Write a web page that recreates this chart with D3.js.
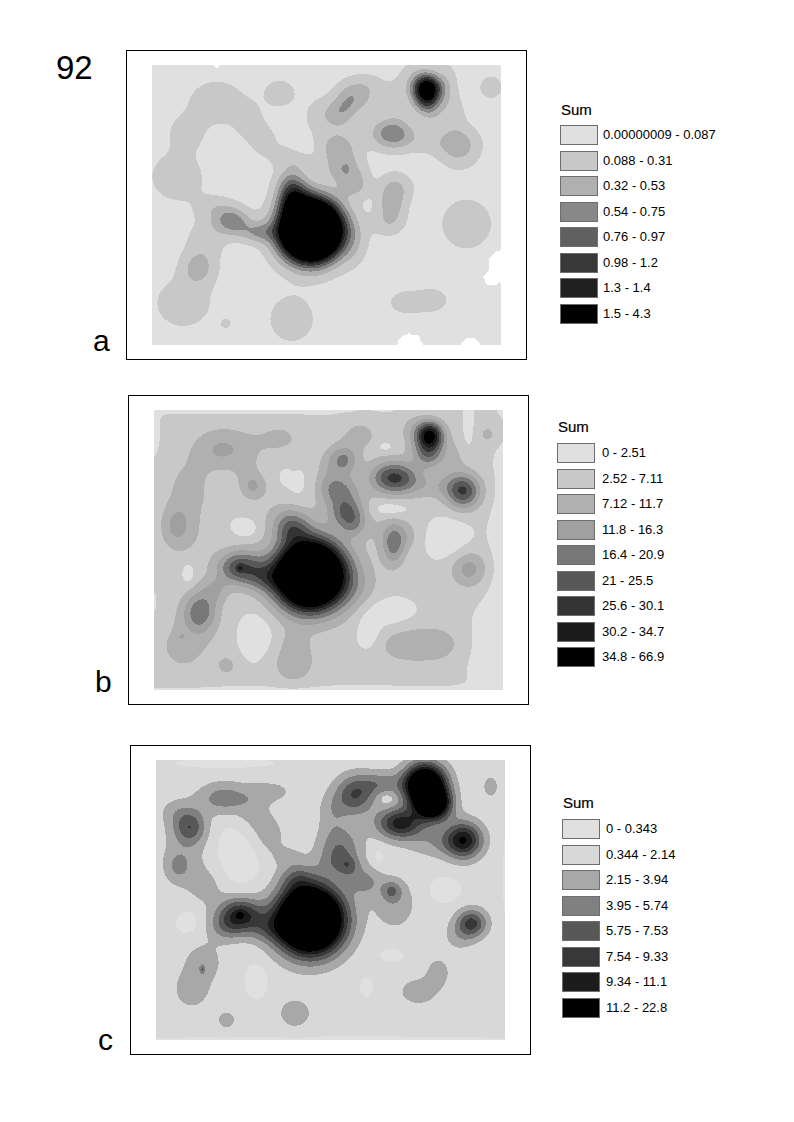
<!DOCTYPE html>
<html><head><meta charset="utf-8">
<script src="https://cdn.jsdelivr.net/npm/d3@7/dist/d3.min.js"></script>
<style>html,body{margin:0;padding:0;background:#fff}svg{display:block}text{font-family:"Liberation Sans",Arial,sans-serif;fill:#000}</style>
</head><body><svg id="c" width="794" height="1122"></svg>
<script>
// Peaks: [east, north, height, spreadE, spreadN]
const peaksA = [
 [572,556,24,58,58],[520,470,3,30,30],[515,420,3,32,36],[340,530,2.7,36,27],[415,562,2.2,38,22],[300,520,.6,45,45],
 [922,132,8.4,30,30],[920,178,2.2,28,24],[815,265,3.2,44,32],[1017,305,1.9,42,42],[930,290,.8,70,28],[880,90,.7,35,40],[985,120,.8,22,55],[1005,205,.7,25,40],[940,215,.8,30,30],[830,170,.7,25,40],
 [695,160,1.9,32,30],[662,205,1.9,32,32],[735,120,.9,48,26],[600,215,.9,36,42],[750,170,.7,25,35],
 [655,305,2.0,40,32],[670,370,2.0,42,32],[678,372,1.3,5,6],[705,420,1.7,30,28],[755,445,.4,12,8],
 [815,470,2.1,30,46],[840,425,.8,34,30],[800,535,.8,36,28],
 [1040,537,1.0,62,62],[1113,127,1.0,27,27],[480,145,1.0,36,32],[515,822,1.0,54,56],[318,836,1.0,11,11],
 [860,772,.95,42,28],[940,765,.95,34,26],
 [290,175,1.15,62,50],[200,265,1,38,38],[385,235,.95,32,40],[430,290,1,30,34],[490,335,.9,30,24],[545,350,.7,26,18],
 [175,395,1.1,62,55],[235,670,1.9,36,36],[190,775,1.1,62,54],[255,590,.9,42,40],[290,490,.8,44,26],
 [700,590,.9,30,50]
];
const holesA = [[330,345,-.3,60,70]];
const noDataA = [[1155,665,52],[1115,700,22],[870,908,40],[1052,910,30],[290,56,10]];
const peaksB = [
 [570,555,18.5,68,68],[515,415,3.0,38,32],[360,532,4.6,48,36],[360,535,2.2,6,6],[435,565,2,40,30],
 [930,135,7,28,28],[925,190,3.4,32,30],[795,262,3,38,34],[845,262,3,38,34],[1030,305,4.6,36,36],[930,285,1.3,75,30],[880,120,1,30,35],[1000,200,.8,30,40],
 [670,210,2.9,30,30],[655,300,3,44,34],[682,368,3.6,38,32],[700,410,1.4,26,24],[720,135,1,46,38],[620,240,.8,25,40],
 [820,465,3,24,44],[860,440,.8,25,30],[1047,537,2.2,38,38],[1105,133,1.1,22,22],
 [240,665,3.4,36,44],[285,600,1.4,28,28],[310,178,1.9,62,44],[400,290,1.9,28,28],[380,235,.6,24,30],[210,290,1,54,62],
 [170,405,1.4,26,38],[190,425,.9,56,64],[480,145,.9,58,40],[520,815,1.35,50,50],[525,760,.7,22,28],[322,827,1,24,24],
 [850,765,1.25,58,38],[950,762,1.25,54,38],[190,770,1,66,66],[185,740,1.5,6,6],
 [500,370,1,50,30],[710,600,1,50,65],[800,420,.7,60,40]
];
const holesB = [
 [380,415,-1,22,18],[205,550,-1,14,24],[495,260,-.8,10,14],[795,170,-1,15,10],[810,358,-1.1,42,18],
 [985,445,-1.1,48,46],[410,740,-1.1,38,52],[790,665,-1.1,62,32],[745,730,-1.1,26,36],
 [1155,560,-.85,34,310],[1110,800,-.8,50,110],[620,906,-.85,500,13],[440,58,-.6,340,15],[102,130,-.6,14,60],[98,640,-.6,10,30],
 [1045,110,-1,10,42],[295,285,-.6,20,28],[540,290,-.5,34,50],[320,400,-.25,44,50]
];
const peaksC = [
 [555,540,16,66,66],[515,415,1.8,36,30],[345,525,5,46,36],[345,525,1.2,8,8],[430,565,1.6,44,30],
 [900,135,11,42,42],[925,195,8,36,32],[825,250,5.2,48,32],[1017,300,5.2,38,38],[940,305,1.5,65,34],
 [690,165,3.7,42,42],[770,130,2,44,26],[620,215,1.1,30,40],
 [645,310,2.2,46,42],[672,378,1.5,20,20],[640,370,1.8,44,34],[720,425,1.8,34,32],
 [800,452,2,20,20],[810,490,1.4,44,56],[1040,550,4.1,32,30],[1000,590,1,32,32],[1097,140,1.2,18,26],
 [195,260,3.2,34,36],[298,175,2.3,56,34],[440,155,1.1,44,22],[385,230,1.1,36,50],[160,378,1.3,22,26],
 [180,360,1.1,58,74],[150,215,.9,34,30],[250,440,.9,36,40],[435,290,1.2,32,44],[490,350,.9,32,22],
 [235,665,1.2,42,42],[200,750,1.2,42,44],[232,688,2,5,8],[305,840,1.15,22,22],[510,820,1.2,40,36],
 [880,755,1.15,48,34],[940,695,1.15,26,32],[300,565,1.5,38,30]
];
const holesC = [
 [340,340,-1,58,75],[960,450,-.8,36,30],[800,645,-.8,28,14],[725,740,-.8,14,22],[395,720,-.8,26,42],
 [190,545,-.8,28,30],[620,906,-.8,520,12],[760,350,-.8,14,20],[1150,400,-.6,14,150],[300,70,-.5,150,16],[785,175,-.9,16,12]
];
const levelsA = ["0.00000009 - 0.087","0.088 - 0.31","0.32 - 0.53","0.54 - 0.75","0.76 - 0.97","0.98 - 1.2","1.3 - 1.4","1.5 - 4.3"];
const levelsB = ["0 - 2.51","2.52 - 7.11","7.12 - 11.7","11.8 - 16.3","16.4 - 20.9","21 - 25.5","25.6 - 30.1","30.2 - 34.7","34.8 - 66.9"];
const levelsC = ["0 - 0.343","0.344 - 2.14","2.15 - 3.94","3.95 - 5.74","5.75 - 7.53","7.54 - 9.33","9.34 - 11.1","11.2 - 22.8"];
const greysA = ["#e0e0e0","#c8c8c8","#b0b0b0","#888888","#606060","#383838","#202020","#000000"];
const greysB = ["#e0e0e0","#c8c8c8","#b0b0b0","#a0a0a0","#787878","#585858","#343434","#1c1c1c","#000000"];
const greysC = ["#e0e0e0","#d8d8d8","#a8a8a8","#808080","#585858","#383838","#1c1c1c","#000000"];

const svg = d3.select("#c");
svg.append("text").attr("x",56).attr("y",79).attr("font-size",33).text("92");

const panels = [
 {tag:"a",peaks:peaksA,holes:holesA,noData:noDataA,base:.5,labels:levelsA,greys:greysA,frame:[126.5,50.5],map:[152,65],dom:[96,60],tagXY:[93,351],leg:[561,115,125,603]},
 {tag:"b",peaks:peaksB,holes:holesB,noData:[],base:1.25,labels:levelsB,greys:greysB,frame:[128.5,395.5],map:[154,410],dom:[102,60],tagXY:[95,692],leg:[558,432,443,602]},
 {tag:"c",peaks:peaksC,holes:holesC,noData:[],base:1.3,labels:levelsC,greys:greysC,frame:[130.5,745.5],map:[156,760],dom:[93,60],tagXY:[98,1050],leg:[563,808,819,606]}
];
const W=349,H=280,nx=116,ny=93,pad=2;
panels.forEach(p=>{
  svg.append("rect").attr("x",p.frame[0]).attr("y",p.frame[1]).attr("width",400).attr("height",309)
     .attr("fill","none").attr("stroke","#000").attr("stroke-width",1);
  const xs=d3.scaleLinear().domain([p.dom[0],p.dom[0]+1047]).range([0,nx]);
  const ys=d3.scaleLinear().domain([p.dom[1],p.dom[1]+840]).range([0,ny]);
  const all=p.peaks.concat(p.holes);
  const grid=[];
  for(let j=-pad;j<ny+pad;j++)for(let i=-pad;i<nx+pad;i++){
    const X=xs.invert(i+.5),Y=ys.invert(j+.5);
    if(p.noData.some(d=>Math.hypot(X-d[0],Y-d[1])<d[2])){grid.push(-1);continue;}
    let v=p.base;
    all.forEach(b=>{const dx=(X-b[0])/b[3],dy=(Y-b[1])/b[4];v+=b[2]*Math.exp(-.5*(dx*dx+dy*dy));});
    grid.push(Math.max(.05,v));
  }
  const th=d3.range(p.greys.length);
  const cs=d3.contours().size([nx+2*pad,ny+2*pad]).smooth(true).thresholds(th)(grid);
  const px=W/nx,py=H/ny;
  const path=d3.geoPath(d3.geoTransform({point(x,y){this.stream.point((x-pad)*px,(y-pad)*py);}}));
  const cid="clip"+p.tag;
  svg.append("clipPath").attr("id",cid).append("rect").attr("width",W).attr("height",H);
  svg.append("g").attr("transform",`translate(${p.map[0]},${p.map[1]})`).attr("clip-path",`url(#${cid})`)
    .selectAll("path").data(cs).join("path").attr("d",path)
    .attr("fill",(d,i)=>p.greys[i]).attr("shape-rendering","crispEdges");
  svg.append("text").attr("x",p.tagXY[0]).attr("y",p.tagXY[1]).attr("font-size",30).text(p.tag);
  const [lx,ly,sy,tx]=p.leg;
  svg.append("text").attr("x",lx).attr("y",ly).attr("font-size",15).attr("stroke","#000").attr("stroke-width",.2).text("Sum");
  const rows=d3.scaleLinear().domain([0,1]).range([sy,sy+25.55]);
  p.labels.forEach((t,i)=>{
    const y=Math.round(rows(i));
    svg.append("rect").attr("x",lx-.5).attr("y",y+.5).attr("width",37).attr("height",19)
      .attr("fill",p.greys[i]).attr("stroke","#6e6e6e").attr("stroke-width",1);
    svg.append("text").attr("x",tx).attr("y",y+13.5).attr("font-size",13).text(t);
  });
});
</script></body></html>
